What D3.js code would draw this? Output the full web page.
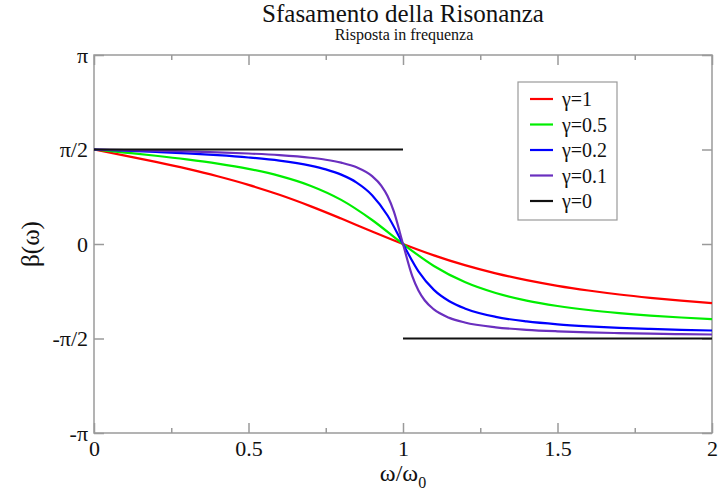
<!DOCTYPE html>
<html><head><meta charset="utf-8">
<script src="https://cdn.jsdelivr.net/npm/d3@7"></script>
<style>
body{margin:0;background:#fff;}
svg text{font-family:"Liberation Serif","Times New Roman",serif !important;fill:#111;}
</style></head>
<body><svg id="c" width="728" height="492" font-family="Liberation Serif"></svg>
<script>
const PI = Math.PI;
const titleText = "Sfasamento della Risonanza";
const subtitleText = "Risposta in frequenza";
const yTickValues = [-PI, -PI/2, 0, PI/2, PI];
const yTickLabels = ["-π", "-π/2", "0", "π/2", "π"];
const xTickValues = [0, 0.5, 1, 1.5, 2];
const xTickLabels = ["0", "0.5", "1", "1.5", "2"];
const xMinorTicks = [0.25, 0.75, 1.25, 1.75];
const seriesNames = ["γ=1", "γ=0.5", "γ=0.2", "γ=0.1", "γ=0"];
const seriesColors = ["#ff0000", "#00ee00", "#0000ff", "#6a2fbf", "#111111"];

// γ = 1
const g1x = [0,0.1,0.2,0.3,0.4,0.5,0.6,0.7,0.8,0.9,1.0,1.1,1.2,1.3,1.4,1.5,1.6,1.7,1.8,1.9,2.0];
const g1y = [1.571,1.470,1.365,1.252,1.126,0.983,0.818,0.630,0.423,0.208,0,-0.189,-0.352,-0.488,-0.601,-0.695,-0.773,-0.839,-0.894,-0.941,-0.983];
// γ = 0.5
const g05x = [0,0.1,0.2,0.3,0.4,0.5,0.6,0.7,0.8,0.9,1.0,1.1,1.2,1.3,1.4,1.5,1.6,1.7,1.8,1.9,2.0];
const g05y = [1.571,1.520,1.467,1.407,1.337,1.249,1.132,0.969,0.733,0.399,0,-0.365,-0.633,-0.815,-0.941,-1.030,-1.097,-1.148,-1.189,-1.222,-1.249];
// γ = 0.2
const g02x = [0,0.1,0.2,0.3,0.4,0.5,0.6,0.7,0.75,0.8,0.85,0.9,0.95,1.0,1.05,1.1,1.15,1.2,1.3,1.4,1.5,1.6,1.7,1.8,1.9,2.0];
const g02y = [1.571,1.551,1.529,1.505,1.476,1.438,1.386,1.303,1.241,1.153,1.021,0.812,0.474,0,-0.454,-0.762,-0.951,-1.071,-1.211,-1.287,-1.335,-1.368,-1.393,-1.411,-1.426,-1.438];
// γ = 0.1
const g01x = [0,0.1,0.2,0.3,0.4,0.5,0.6,0.7,0.75,0.8,0.85,0.9,0.93,0.95,0.97,1.0,1.03,1.05,1.07,1.1,1.15,1.2,1.3,1.4,1.5,1.6,1.7,1.8,1.9,2.0];
const g01y = [1.571,1.561,1.550,1.538,1.523,1.504,1.477,1.434,1.401,1.352,1.274,1.128,0.968,0.798,0.547,0,-0.534,-0.773,-0.935,-1.088,-1.228,-1.305,-1.385,-1.426,-1.451,-1.469,-1.481,-1.491,-1.498,-1.504];
// γ = 0 (two segments)
const g0aX = [0, 1], g0aY = [PI/2, PI/2];
const g0bX = [1, 2], g0bY = [-PI/2, -PI/2];

const svg = d3.select("#c");
const FONT = "Liberation Serif";
const L = 94, R = 712, T = 55, B = 433;
const x = d3.scaleLinear().domain([0, 2]).range([L, R]);
const y = d3.scaleLinear().domain([-PI, PI]).range([B, T]);
const frameColor = "#9a9a9a";

svg.append("rect").attr("x", L).attr("y", T).attr("width", R - L).attr("height", B - T)
  .attr("fill", "none").attr("stroke", frameColor).attr("stroke-width", 1.5);

function styleAxis(g) {
  g.attr("font-family", FONT);
  g.select(".domain").remove();
  g.selectAll(".tick line").attr("stroke", frameColor).attr("stroke-width", 1.5);
  g.selectAll("text").attr("font-family", FONT).attr("fill", "#111");
}
svg.append("g").attr("transform", `translate(0,${B})`)
  .call(d3.axisBottom(x).tickValues(xTickValues).tickSize(-10).tickPadding(7).tickFormat((d, i) => xTickLabels[i]))
  .call(styleAxis)
  .call(g => g.selectAll("text").attr("font-size", 22).attr("dy", "0.71em"));
svg.append("g").attr("transform", `translate(0,${B})`)
  .call(d3.axisBottom(x).tickValues(xMinorTicks).tickSize(-5).tickFormat(""))
  .call(styleAxis);
svg.append("g").attr("transform", `translate(0,${T})`)
  .call(d3.axisTop(x).tickValues(xTickValues).tickSize(-10).tickFormat(""))
  .call(styleAxis);
svg.append("g").attr("transform", `translate(0,${T})`)
  .call(d3.axisTop(x).tickValues(xMinorTicks).tickSize(-5).tickFormat(""))
  .call(styleAxis);
svg.append("g").attr("transform", `translate(${L},0)`)
  .call(d3.axisLeft(y).tickValues(yTickValues).tickSize(-10).tickPadding(6).tickFormat((d, i) => yTickLabels[i]))
  .call(styleAxis)
  .call(g => g.selectAll("text").attr("font-size", 22));
svg.append("g").attr("transform", `translate(${R},0)`)
  .call(d3.axisRight(y).tickValues(yTickValues).tickSize(-10).tickFormat(""))
  .call(styleAxis);

const line = d3.line().x(d => x(d[0])).y(d => y(d[1])).curve(d3.curveMonotoneX);
const zip = (a, b) => a.map((v, i) => [v, b[i]]);
const data = [
  [zip(g1x, g1y)], [zip(g05x, g05y)], [zip(g02x, g02y)], [zip(g01x, g01y)],
  [zip(g0aX, g0aY), zip(g0bX, g0bY)]
];
const plot = svg.append("g");
data.forEach((segs, i) => {
  segs.forEach(s => {
    plot.append("path").attr("d", line(s)).attr("fill", "none")
      .attr("stroke", seriesColors[i]).attr("stroke-width", 2.2);
  });
});

const lg = svg.append("g").attr("font-family", FONT);
lg.append("rect").attr("x", 518).attr("y", 82).attr("width", 99).attr("height", 138)
  .attr("fill", "#fff").attr("stroke", frameColor).attr("stroke-width", 1.2);
seriesNames.forEach((n, i) => {
  const yy = 99 + i * 25.5;
  lg.append("line").attr("x1", 530).attr("x2", 553).attr("y1", yy).attr("y2", yy)
    .attr("stroke", seriesColors[i]).attr("stroke-width", 2.2);
  lg.append("text").attr("x", 562).attr("y", yy).attr("dy", "0.35em").attr("font-size", 20)
    .attr("font-family", FONT).text(n);
});

svg.append("text").attr("x", 403).attr("y", 22).attr("text-anchor", "middle").attr("font-size", 25)
  .attr("font-family", FONT).text(titleText);
svg.append("text").attr("x", 404).attr("y", 40).attr("text-anchor", "middle").attr("font-size", 16)
  .attr("font-family", FONT).text(subtitleText);

const xl = svg.append("text").attr("x", 403).attr("y", 481).attr("text-anchor", "middle").attr("font-size", 24)
  .attr("font-family", FONT);
xl.append("tspan").text("ω/ω");
xl.append("tspan").attr("font-size", 16).attr("dy", 7).text("0");
svg.append("text").attr("transform", "translate(39,244) rotate(-90)").attr("text-anchor", "middle")
  .attr("font-size", 25).attr("font-family", FONT).text("β(ω)");
</script></body></html>
